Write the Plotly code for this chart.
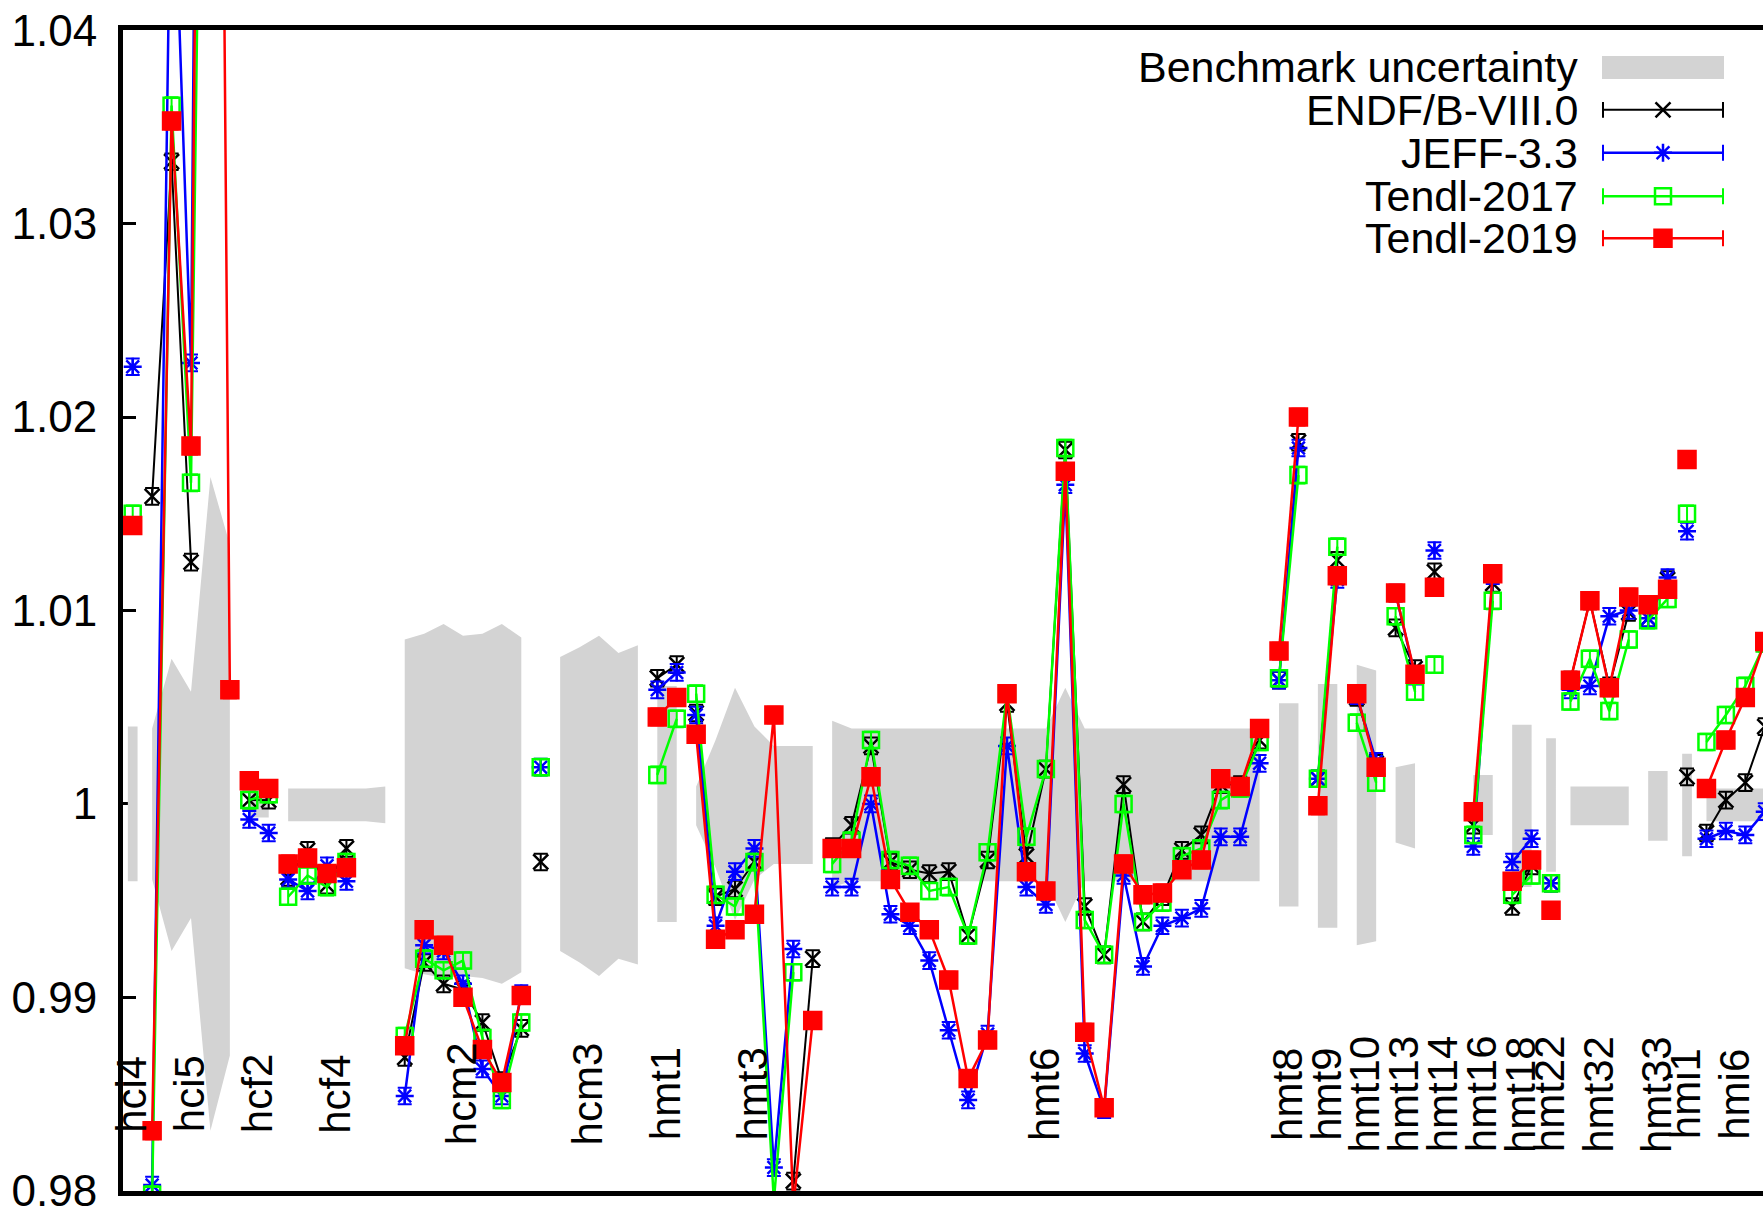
import plotly.graph_objects as go

# benchmark cases: label, first and last position on the x axis
case_names = ['hci4', 'hci5', 'hcf2', 'hcf4', 'hcm2', 'hcm3', 'hmt1', 'hmt3', 'hmt6',
              'hmt8', 'hmt9', 'hmt10', 'hmt13', 'hmt14', 'hmt16', 'hmt18', 'hmt22',
              'hmt32', 'hmt33', 'hmi1', 'hmi6']
case_first = [1, 2, 7, 9, 15, 22, 28, 30, 37, 60, 62, 64, 66, 68, 70, 72, 74, 75, 79, 81, 82]
case_last = [1, 6, 8, 14, 21, 27, 29, 36, 59, 61, 63, 65, 67, 69, 71, 73, 74, 78, 80, 81, 85]

# C/E values, one per position 1..85 (None = no result)
endf = [
    None,
    1.0159, 1.0332, 1.0125, None, None,
    1.0002, 1.0002,
    0.9962, 0.9976, 0.9958, 0.9977, None, None,
    0.9869, 0.9918, 0.9907, 0.9904, 0.9887, 0.9857, 0.9884,
    0.9970, None, None, None, None, None,
    1.0065, 1.0072,
    1.0047, 0.9952, 0.9956, 0.9970, None, 0.9805, 0.9920,
    0.9978, 0.9989, 1.0030, 0.9970, 0.9966, 0.9964, 0.9965, 0.9932, 0.9971, 1.0052,
    0.9973, 1.0018, 1.0183, 0.9947, 0.9922, 1.0010, 0.9939, 0.9952, 0.9976, 0.9984,
    1.0010, 1.0010, 1.0033,
    1.0064, 1.0187,
    1.0013, 1.0126,
    1.0055, 1.0021,
    1.0091, 1.0070,
    1.0120, None,
    0.9989, 1.0114,
    0.9947, 0.9968,
    0.9959,
    1.0064, 1.0105, 1.0061, 1.0099,
    1.0096, 1.0116,
    1.0014,
    0.9985, 1.0002, 1.0011, 1.0040,
]
jeff = [
    1.0226,
    0.9803, 1.0520, 1.0228, 1.1470, None,
    0.9992, 0.9985,
    0.9961, 0.9955, 0.9968, 0.9960, None, None,
    0.9849, 0.9927, 0.9924, 0.9907, 0.9863, 0.9849, 0.9902,
    1.0019, None, None, None, None, None,
    1.0059, 1.0068,
    1.0046, 0.9937, 0.9965, 0.9977, 0.9812, 0.9925, None,
    0.9957, 0.9957, 1.0000, 0.9943, 0.9937, 0.9919, 0.9883, 0.9847, 0.9881, 1.0030,
    0.9957, 0.9948, 1.0165, 0.9871, 0.9842, 0.9963, 0.9916, 0.9937, 0.9941, 0.9946,
    0.9983, 0.9983, 1.0021,
    1.0064, 1.0184,
    1.0013, 1.0116,
    1.0056, 1.0022,
    1.0109, 1.0066,
    1.0131, None,
    0.9978, 1.0118,
    0.9970, 0.9982,
    0.9959,
    1.0059, 1.0061, 1.0097, 1.0100,
    1.0096, 1.0117,
    1.0141,
    0.9982, 0.9986, 0.9984, 0.9996,
]
tendl17 = [
    1.0150,
    0.9798, 1.0361, 1.0166, 1.0920, None,
    1.0002, 1.0005,
    0.9952, 0.9963, 0.9957, 0.9970, None, None,
    0.9880, 0.9920, 0.9914, 0.9919, 0.9879, 0.9847, 0.9887,
    1.0019, None, None, None, None, None,
    1.0015, 1.0044,
    1.0057, 0.9953, 0.9947, 0.9970, 0.9795, 0.9913, None,
    0.9969, 0.9981, 1.0033, 0.9971, 0.9968, 0.9955, 0.9957, 0.9932, 0.9975, 1.0057,
    0.9983, 1.0018, 1.0184, 0.9940, 0.9922, 1.0000, 0.9939, 0.9949, 0.9973, 0.9977,
    1.0002, 1.0008, 1.0032,
    1.0065, 1.0170,
    1.0013, 1.0133,
    1.0042, 1.0011,
    1.0097, 1.0058,
    1.0072, None,
    0.9984, 1.0105,
    0.9953, 0.9963,
    0.9959,
    1.0053, 1.0075, 1.0048, 1.0085,
    1.0095, 1.0106,
    1.0150,
    1.0032, 1.0046, 1.0061, 1.0083,
]
tendl19 = [
    1.0144,
    0.9831, 1.0353, 1.0185, 1.1300, 1.0059,
    1.0012, 1.0008,
    0.9969, 0.9972, 0.9964, 0.9967, None, None,
    0.9875, 0.9935, 0.9927, 0.9900, 0.9873, 0.9856, 0.9901,
    None, None, None, None, None, None,
    1.0045, 1.0055,
    1.0036, 0.9930, 0.9935, 0.9943, 1.0046, 0.9792, 0.9888,
    0.9977, 0.9977, 1.0014, 0.9961, 0.9944, 0.9935, 0.9909, 0.9858, 0.9878, 1.0057,
    0.9965, 0.9955, 1.0172, 0.9882, 0.9843, 0.9969, 0.9953, 0.9954, 0.9966, 0.9971,
    1.0013, 1.0009, 1.0039,
    1.0079, 1.0200,
    0.9999, 1.0118,
    1.0057, 1.0019,
    1.0109, 1.0067,
    1.0112, None,
    0.9996, 1.0119,
    0.9960, 0.9971,
    0.9945,
    1.0064, 1.0105, 1.0060, 1.0107,
    1.0103, 1.0111,
    1.0178,
    1.0008, 1.0033, 1.0055, 1.0084,
]

# benchmark uncertainty band (upper / lower edge)
band_hi = [
    1.0040,
    1.0039, 1.0075, 1.0058, 1.0169, 1.0134,
    1.0007, 1.0007,
    1.0008, 1.0008, 1.0008, 1.0008, 1.0008, 1.0009,
    1.0085, 1.0088, 1.0093, 1.0087, 1.0088, 1.0093, 1.0086,
    None, 1.0076, 1.0081, 1.0087, 1.0078, 1.0082,
    1.0061, 1.0061,
    1.0009, 1.0033, 1.0060, 1.0040, 1.0030, 1.0030, 1.0030,
    1.0043, 1.0039, 1.0039, 1.0039, 1.0039, 1.0039, 1.0039, 1.0039, 1.0039, 1.0039,
    1.0039, 1.0039, 1.0060, 1.0039, 1.0039, 1.0039, 1.0039, 1.0039, 1.0039, 1.0039,
    1.0039, 1.0039, 1.0039,
    1.0052, 1.0052,
    1.0062, 1.0062,
    1.0072, 1.0069,
    1.0019, 1.0021,
    None, None,
    1.0015, 1.0015,
    1.0041, 1.0041,
    1.0034,
    1.0009, 1.0009, 1.0009, 1.0009,
    1.0017, 1.0017,
    1.0026,
    1.0008, 1.0008, 1.0008, 1.0008,
]
band_lo = [
    0.9960,
    0.9961, 0.9924, 0.9941, 0.9831, 0.9870,
    0.9993, 0.9993,
    0.9991, 0.9991, 0.9991, 0.9991, 0.9991, 0.9990,
    0.9915, 0.9912, 0.9910, 0.9911, 0.9910, 0.9907, 0.9913,
    None, 0.9924, 0.9918, 0.9911, 0.9920, 0.9917,
    0.9939, 0.9939,
    0.9989, 0.9967, 0.9940, 0.9961, 0.9969, 0.9969, 0.9969,
    0.9957, 0.9960, 0.9960, 0.9960, 0.9960, 0.9960, 0.9960, 0.9960, 0.9960, 0.9960,
    0.9960, 0.9960, 0.9939, 0.9960, 0.9960, 0.9960, 0.9960, 0.9960, 0.9960, 0.9960,
    0.9960, 0.9960, 0.9960,
    0.9947, 0.9947,
    0.9936, 0.9936,
    0.9927, 0.9929,
    0.9980, 0.9977,
    None, None,
    0.9984, 0.9984,
    0.9957, 0.9957,
    0.9965,
    0.9989, 0.9989, 0.9989, 0.9989,
    0.9981, 0.9981,
    0.9973,
    0.9991, 0.9991, 0.9991, 0.9991,
]

y_ticks = [0.98, 0.99, 1.00, 1.01, 1.02, 1.03, 1.04]
y_ticktext = ['0.98', '0.99', '1', '1.01', '1.02', '1.03', '1.04']

FONT = 'Liberation Sans, Arial, Helvetica, sans-serif'

fig = go.Figure()

# grey band, one polygon per case
bx, by = [], []
for a, b in zip(case_first, case_last):
    seg = [i for i in range(a, b + 1) if band_hi[i - 1] is not None]
    if not seg:
        continue
    if len(seg) == 1:
        i = seg[0]
        xs = [i - 0.25, i + 0.25, i + 0.25, i - 0.25, i - 0.25]
        ys = [band_hi[i - 1], band_hi[i - 1], band_lo[i - 1], band_lo[i - 1], band_hi[i - 1]]
    else:
        xs = seg + seg[::-1] + [seg[0]]
        ys = ([band_hi[i - 1] for i in seg] + [band_lo[i - 1] for i in seg[::-1]]
              + [band_hi[seg[0] - 1]])
    bx += xs + [None]
    by += ys + [None]
fig.add_trace(go.Scatter(x=bx, y=by, mode='lines', fill='toself', fillcolor='#d3d3d3',
                         line=dict(width=0, color='#d3d3d3'), hoverinfo='skip'))


def by_case(vals):
    xs, ys = [], []
    for a, b in zip(case_first, case_last):
        for i in range(a, b + 1):
            xs.append(i)
            ys.append(vals[i - 1])
        xs.append(None)
        ys.append(None)
    return xs, ys


series = [
    ('ENDF/B-VIII.0', endf, 'black', 'x-thin', 15, 2),
    ('JEFF-3.3', jeff, '#0000ff', 'asterisk-open', 15, 2.5),
    ('Tendl-2017', tendl17, '#00ff00', 'square-open', 16, 2.5),
    ('Tendl-2019', tendl19, '#ff0000', 'square', 17, 2.5),
]
for name, vals, col, sym, size, lw in series:
    xs, ys = by_case(vals)
    fig.add_trace(go.Scatter(
        x=xs, y=ys, name=name, mode='lines+markers',
        line=dict(color=col, width=lw),
        marker=dict(symbol=sym, size=size, color=col, line=dict(color=col, width=2.5)),
        error_y=dict(type='constant', value=0.00043, color=col, thickness=2, width=7),
    ))

# key drawn in pixel coordinates on an overlay axis pair
key_rows = [110, 153, 196.5, 238.5]
for (name, vals, col, sym, size, lw), ry in zip(series, key_rows):
    fig.add_trace(go.Scatter(x=[1603, 1723], y=[ry, ry], mode='lines', xaxis='x2', yaxis='y3',
                             line=dict(color=col, width=lw), hoverinfo='skip'))
    fig.add_trace(go.Scatter(x=[1603, 1603, None, 1723, 1723],
                             y=[ry - 8, ry + 8, None, ry - 8, ry + 8],
                             mode='lines', xaxis='x2', yaxis='y3',
                             line=dict(color=col, width=2), hoverinfo='skip'))
    fig.add_trace(go.Scatter(x=[1663], y=[ry], mode='markers', xaxis='x2', yaxis='y3',
                             marker=dict(symbol=sym, size=size, color=col,
                                         line=dict(color=col, width=2.5)),
                             hoverinfo='skip'))
    fig.add_annotation(x=1580, y=ry, xref='x2', yref='y3', text=name, showarrow=False,
                       xanchor='right', yanchor='middle',
                       font=dict(family=FONT, size=43, color='black'))
fig.add_shape(type='rect', x0=1602, x1=1724, y0=56, y1=79, xref='x2', yref='y3',
              fillcolor='#d3d3d3', line=dict(width=0))
fig.add_annotation(x=1580, y=67, xref='x2', yref='y3', text='Benchmark uncertainty',
                   showarrow=False, xanchor='right', yanchor='middle',
                   font=dict(family=FONT, size=43, color='black'))

# case labels, rotated, inside the plot
for name, a, b in zip(case_names, case_first, case_last):
    fig.add_annotation(x=(a + b) / 2 - 0.1, y=0.985, text=name, showarrow=False,
                       textangle=-90, xanchor='center', yanchor='middle',
                       font=dict(family=FONT, size=42, color='black'))

fig.update_layout(
    width=1763, height=1215,
    margin=dict(l=123, r=0, t=30, b=22, pad=0),
    paper_bgcolor='white', plot_bgcolor='white',
    showlegend=False,
    font=dict(family=FONT, size=43, color='black'),
    xaxis=dict(range=[0.5, 84.91], showticklabels=False, ticks='', showgrid=False,
               zeroline=False, showline=True, mirror=True, linewidth=5, linecolor='black'),
    yaxis=dict(range=[0.97999, 1.04001], tickvals=y_ticks, ticktext=y_ticktext,
               ticks='inside', ticklen=13, tickwidth=2.5, tickcolor='black',
               showgrid=False, zeroline=False, showline=True, linewidth=5,
               linecolor='black', ticklabelstandoff=12, ticklabeloverflow='allow',
               layer='below traces',
               tickfont=dict(family=FONT, size=44, color='black')),
    yaxis2=dict(range=[0.97999, 1.04001], tickvals=y_ticks, overlaying='y', side='right',
                anchor='x', ticks='inside', ticklen=7, tickwidth=2.5, tickcolor='black',
                showticklabels=False, showgrid=False, zeroline=False, showline=False),
    xaxis2=dict(range=[123, 1763], overlaying='x', anchor='y3', visible=False),
    yaxis3=dict(range=[1193, 30], overlaying='y', anchor='x2', visible=False),
)

fig.write_html("out.html", config={'displayModeBar': False},
               post_script="document.body.style.margin='0';")
